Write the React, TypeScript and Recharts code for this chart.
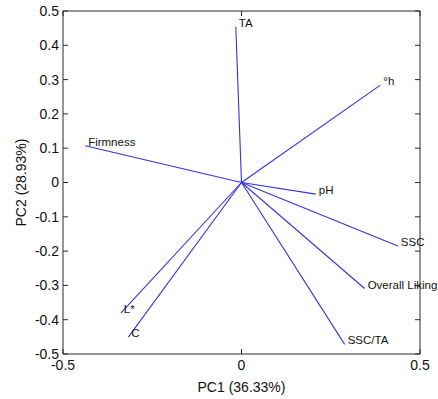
import React from 'react'
import { Scatter, ScatterChart, XAxis, YAxis } from 'recharts'

// loadings on PC1 / PC2
const variables = ['TA', '°h', 'pH', 'Firmness', 'L*', 'C', 'SSC', 'Overall Liking', 'SSC/TA']
const pc1 = [-0.016, 0.389, 0.208, -0.438, -0.338, -0.317, 0.438, 0.345, 0.289]
const pc2 = [0.454, 0.284, -0.034, 0.107, -0.381, -0.451, -0.185, -0.309, -0.472]

const xTicks = [-0.5, 0, 0.5]
const yTicks = [0.5, 0.4, 0.3, 0.2, 0.1, 0, -0.1, -0.2, -0.3, -0.4, -0.5]

const LINE = '#3434e0'
const AXIS = '#2b2b2b'
const FONT = '"Liberation Sans", Arial, sans-serif'

type Pt = { x: number; y: number; name?: string }

const vectors: Pt[][] = variables.map((name, i) => [
  { x: 0, y: 0 },
  { x: pc1[i], y: pc2[i], name },
])
const tips: Pt[] = variables.map((_, i) => ({ x: pc1[i], y: pc2[i] }))

// only the tip of each vector gets a text label, no marker
function TipLabel(props: any) {
  const { cx, cy, payload } = props
  if (!payload?.name) return <g />
  return (
    <text
      x={cx + 3}
      y={cy - 3}
      fontSize={11.5}
      fontFamily={FONT}
      fill="#111"
      dominantBaseline="middle"
    >
      {payload.name}
    </text>
  )
}

const noMark = () => <g />

export default function App() {
  const tickStyle = { fontSize: 14, fill: '#111', fontFamily: FONT }
  return (
    <div style={{ position: 'absolute', left: 0, top: 0, background: '#fff' }}>
      <ScatterChart width={438} height={399} margin={{ top: 10, right: 17, bottom: 0, left: 0 }}>
        <XAxis
          xAxisId="b"
          type="number"
          dataKey="x"
          domain={[-0.5, 0.5]}
          ticks={xTicks}
          height={45}
          tickSize={-5}
          tickMargin={11}
          stroke={AXIS}
          tick={tickStyle}
          tickFormatter={(v) => String(v)}
          label={{ value: 'PC1 (36.33%)', position: 'insideBottom', offset: 7, style: { fontSize: 14, fill: '#111', fontFamily: FONT } }}
        />
        <XAxis
          xAxisId="t"
          orientation="top"
          type="number"
          dataKey="x"
          domain={[-0.5, 0.5]}
          ticks={xTicks}
          height={1}
          tickSize={-5}
          stroke={AXIS}
          tick={noMark}
        />
        <YAxis
          yAxisId="l"
          type="number"
          dataKey="y"
          domain={[-0.5, 0.5]}
          ticks={yTicks}
          width={63}
          tickSize={-5}
          tickMargin={9}
          stroke={AXIS}
          tick={tickStyle}
          tickFormatter={(v) => String(v)}
          label={{ value: 'PC2 (28.93%)', angle: -90, position: 'insideLeft', offset: 21, style: { fontSize: 14, fill: '#111', fontFamily: FONT, textAnchor: 'middle' } }}
        />
        <YAxis
          yAxisId="r"
          orientation="right"
          type="number"
          dataKey="y"
          domain={[-0.5, 0.5]}
          ticks={yTicks}
          width={1}
          tickSize={-5}
          stroke={AXIS}
          tick={noMark}
        />
        {/* invisible series so the top / right box axes get drawn */}
        <Scatter xAxisId="t" yAxisId="r" data={tips} shape={noMark} isAnimationActive={false} />
        {vectors.map((data, i) => (
          <Scatter
            key={variables[i]}
            xAxisId="b"
            yAxisId="l"
            data={data}
            line={{ stroke: LINE, strokeWidth: 1.1 }}
            shape={TipLabel}
            isAnimationActive={false}
          />
        ))}
      </ScatterChart>
    </div>
  )
}
